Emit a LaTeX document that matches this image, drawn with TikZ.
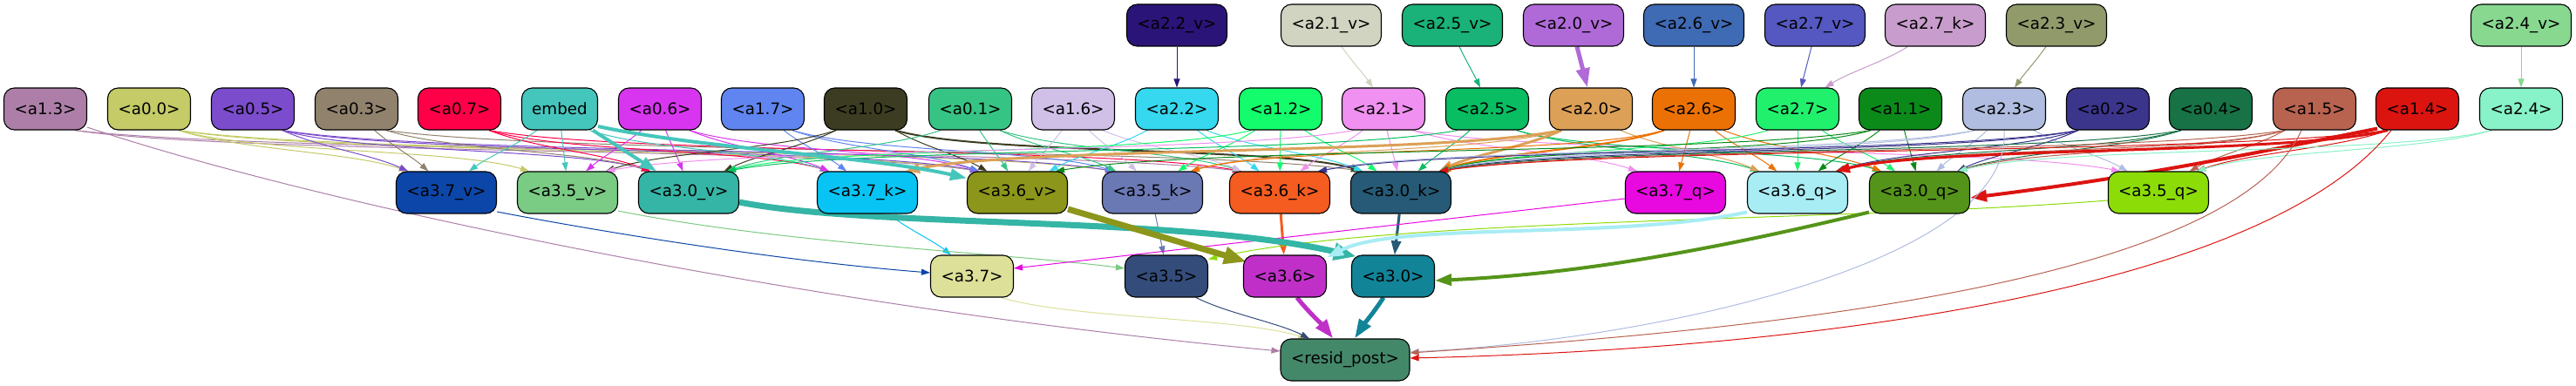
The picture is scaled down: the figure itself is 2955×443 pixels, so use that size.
\documentclass[tikz,border=0pt]{standalone}
\usepackage{fontspec}
\setmainfont{DejaVu Sans}
\usetikzlibrary{arrows.meta,calc}
\pgfdeclarelayer{bg}
\pgfsetlayers{bg,main}
\newdimen\edA \newdimen\edB \newdimen\edC \newdimen\edD
\definecolor{c13}{HTML}{AD7FA8}\definecolor{c00}{HTML}{C4CB67}\definecolor{c05}{HTML}{7B4CCC}
\definecolor{c03}{HTML}{91826D}\definecolor{c07}{HTML}{FF0048}\definecolor{cemb}{HTML}{45C6BC}
\definecolor{c06}{HTML}{D835F0}\definecolor{c17}{HTML}{6085F0}\definecolor{c10}{HTML}{3C3C22}
\definecolor{c01}{HTML}{36C484}\definecolor{c16}{HTML}{D0C0E8}\definecolor{c22}{HTML}{35D8EE}
\definecolor{c12}{HTML}{12FC6C}\definecolor{c21}{HTML}{F090F0}\definecolor{c25}{HTML}{08BD62}
\definecolor{c20}{HTML}{DCA057}\definecolor{c26}{HTML}{EC7104}\definecolor{c27}{HTML}{21F06D}
\definecolor{c11}{HTML}{0B8A1A}\definecolor{c23}{HTML}{B0BDE0}\definecolor{c02}{HTML}{3C358C}
\definecolor{c04}{HTML}{177245}\definecolor{c15}{HTML}{B86250}\definecolor{c14}{HTML}{DC1410}
\definecolor{c24}{HTML}{88F2C8}
\definecolor{c22v}{HTML}{2B1478}\definecolor{c21v}{HTML}{D0D4C0}\definecolor{c25v}{HTML}{1AB278}
\definecolor{c20v}{HTML}{B06AD8}\definecolor{c26v}{HTML}{3F6AB4}\definecolor{c27v}{HTML}{5558C0}
\definecolor{c27k}{HTML}{C89CCC}\definecolor{c23v}{HTML}{909A6A}\definecolor{c24v}{HTML}{88D890}
\definecolor{c37v}{HTML}{0C46A8}\definecolor{c35v}{HTML}{7ACB84}\definecolor{c30v}{HTML}{35B5A5}
\definecolor{c37k}{HTML}{08C4F4}\definecolor{c36v}{HTML}{8C961A}\definecolor{c35k}{HTML}{6A78B4}
\definecolor{c36k}{HTML}{F45C20}\definecolor{c30k}{HTML}{265A76}\definecolor{c37q}{HTML}{E808E0}
\definecolor{c36q}{HTML}{A8ECF4}\definecolor{c30q}{HTML}{55941A}\definecolor{c35q}{HTML}{8CDC08}
\definecolor{c37}{HTML}{DCE098}\definecolor{c35}{HTML}{344C7A}\definecolor{c36}{HTML}{C030C8}
\definecolor{c30}{HTML}{128498}\definecolor{crp}{HTML}{44886A}
\newcommand{\ed}[4][]{%
 \pgfextractx{\edA}{\pgfpointanchor{#2}{center}}%
 \pgfextractx{\edB}{\pgfpointanchor{#3}{center}}%
 \pgfextracty{\edC}{\pgfpointanchor{#2}{south}}%
 \pgfextracty{\edD}{\pgfpointanchor{#3}{north}}%
 \pgfmathsetmacro{\oA}{max(-34,min(34,(\edB-\edA)/5))}%
 \pgfmathsetmacro{\oB}{-max(-44,min(44,(\edB-\edA)/5))}%
 \pgfmathsetmacro{\dX}{(\edB-\edA)+((\oB)-(\oA))}%
 \pgfmathsetmacro{\tT}{min(1,abs(\dX)/500)}%
 \pgfmathsetmacro{\cX}{(\dX)*(0.3333-0.1533*(\tT))}%
 \pgfmathsetmacro{\cY}{(\edC-\edD)*(0.3333+0.2667*(\tT))}%
 \pgfmathsetmacro{\mX}{-(\cX)}%
 \pgfmathsetmacro{\mY}{-(\cY)}%
 \draw[cn,draw=#4,#1] ([xshift=\oA pt]#2.south) .. controls +(\cX,\cY) and +(\mX,\mY) .. ([xshift=\oB pt]#3.north);%
}
\begin{document}
\begin{tikzpicture}[x=1pt,y=-1pt,
 nd/.style={rectangle,rounded corners=12pt,draw=black,line width=1.1pt,minimum height=48pt,minimum width=95pt,inner sep=0pt,font=\fontsize{18.3}{22}\selectfont,text=black},
 wd/.style={minimum width=115pt},
 cn/.style={line width=1pt,-{Triangle[length=10pt,width=7pt]}},
 th2/.style={line width=2pt,-{Triangle[length=13pt,width=9pt]}},
 th3/.style={line width=3pt,-{Triangle[length=16pt,width=11pt]}},
 th4/.style={line width=4pt,-{Triangle[length=19pt,width=13pt]}},
 th5/.style={line width=5pt,-{Triangle[length=22pt,width=15pt]}},
 th7/.style={line width=7pt,-{Triangle[length=26pt,width=19pt]}}]
\useasboundingbox (0,0) rectangle (2955,443);
% row 0
\node[nd,wd,fill=c22v] (a22v) at (1350,29) {<a2.2\_v>};
\node[nd,wd,fill=c21v] (a21v) at (1527,29) {<a2.1\_v>};
\node[nd,wd,fill=c25v] (a25v) at (1666,29) {<a2.5\_v>};
\node[nd,wd,fill=c20v] (a20v) at (1805,29) {<a2.0\_v>};
\node[nd,wd,fill=c26v] (a26v) at (1943,29) {<a2.6\_v>};
\node[nd,wd,fill=c27v] (a27v) at (2082,29) {<a2.7\_v>};
\node[nd,wd,fill=c27k] (a27k) at (2220,29) {<a2.7\_k>};
\node[nd,wd,fill=c23v] (a23v) at (2359,29) {<a2.3\_v>};
\node[nd,wd,fill=c24v] (a24v) at (2892,29) {<a2.4\_v>};
% row 1
\node[nd,fill=c13] (a13) at (52,125) {<a1.3>};
\node[nd,fill=c00] (a00) at (171,125) {<a0.0>};
\node[nd,fill=c05] (a05) at (290,125) {<a0.5>};
\node[nd,fill=c03] (a03) at (409,125) {<a0.3>};
\node[nd,fill=c07] (a07) at (527,125) {<a0.7>};
\node[nd,fill=cemb,minimum width=87pt] (emb) at (642,125) {embed};
\node[nd,fill=c06] (a06) at (757,125) {<a0.6>};
\node[nd,fill=c17] (a17) at (875,125) {<a1.7>};
\node[nd,fill=c10] (a10) at (993,125) {<a1.0>};
\node[nd,fill=c01] (a01) at (1113,125) {<a0.1>};
\node[nd,fill=c16] (a16) at (1231,125) {<a1.6>};
\node[nd,fill=c22] (a22) at (1350,125) {<a2.2>};
\node[nd,fill=c12] (a12) at (1469,125) {<a1.2>};
\node[nd,fill=c21] (a21) at (1587,125) {<a2.1>};
\node[nd,fill=c25] (a25) at (1706,125) {<a2.5>};
\node[nd,fill=c20] (a20) at (1825,125) {<a2.0>};
\node[nd,fill=c26] (a26) at (1943,125) {<a2.6>};
\node[nd,fill=c27] (a27) at (2062,125) {<a2.7>};
\node[nd,fill=c11] (a11) at (2180,125) {<a1.1>};
\node[nd,fill=c23] (a23) at (2299,125) {<a2.3>};
\node[nd,fill=c02] (a02) at (2418,125) {<a0.2>};
\node[nd,fill=c04] (a04) at (2536,125) {<a0.4>};
\node[nd,fill=c15] (a15) at (2655,125) {<a1.5>};
\node[nd,fill=c14] (a14) at (2773,125) {<a1.4>};
\node[nd,fill=c24] (a24) at (2892,125) {<a2.4>};
% row 2
\node[nd,wd,fill=c37v] (a37v) at (512,221) {<a3.7\_v>};
\node[nd,wd,fill=c35v] (a35v) at (651,221) {<a3.5\_v>};
\node[nd,wd,fill=c30v] (a30v) at (790,221) {<a3.0\_v>};
\node[nd,wd,fill=c37k] (a37k) at (995,221) {<a3.7\_k>};
\node[nd,wd,fill=c36v] (a36v) at (1167,221) {<a3.6\_v>};
\node[nd,wd,fill=c35k] (a35k) at (1322,221) {<a3.5\_k>};
\node[nd,wd,fill=c36k] (a36k) at (1468,221) {<a3.6\_k>};
\node[nd,wd,fill=c30k] (a30k) at (1607,221) {<a3.0\_k>};
\node[nd,wd,fill=c37q] (a37q) at (1922,221) {<a3.7\_q>};
\node[nd,wd,fill=c36q] (a36q) at (2062,221) {<a3.6\_q>};
\node[nd,wd,fill=c30q] (a30q) at (2202,221) {<a3.0\_q>};
\node[nd,wd,fill=c35q] (a35q) at (2476,221) {<a3.5\_q>};
% row 3
\node[nd,fill=c37] (a37) at (1115,317) {<a3.7>};
\node[nd,fill=c35] (a35) at (1338,317) {<a3.5>};
\node[nd,fill=c36] (a36) at (1474,317) {<a3.6>};
\node[nd,fill=c30] (a30) at (1598,317) {<a3.0>};
% row 4
\node[nd,fill=crp,minimum width=148pt] (rp) at (1543,413) {<resid\_post>};
\begin{pgfonlayer}{bg}
\fill[white] (0,0) rectangle (2955,443);
% row 0 -> row 1
\ed{a22v}{a22}{c22v}\ed{a21v}{a21}{c21v}\ed{a25v}{a25}{c25v}
\ed[th5]{a20v}{a20}{c20v}\ed{a26v}{a26}{c26v}\ed{a27v}{a27}{c27v}
\ed{a27k}{a27}{c27k}\ed{a23v}{a23}{c23v}\ed{a24v}{a24}{c24v}
% row 1 -> row 2
\ed{a13}{a36v}{c13}\ed{a13}{a36k}{c13}
\ed{a00}{a37v}{c00}\ed{a00}{a35v}{c00}\ed{a00}{a36v}{c00}\ed{a00}{a35k}{c00}
\ed{a05}{a37v}{c05}\ed{a05}{a36v}{c05}\ed{a05}{a35k}{c05}\ed{a05}{a30v}{c05}
\ed{a03}{a37v}{c03}\ed{a03}{a30v}{c03}\ed{a03}{a30k}{c03}
\ed{a07}{a30v}{c07}\ed{a07}{a37k}{c07}\ed{a07}{a36k}{c07}
\ed{emb}{a37v}{cemb}\ed{emb}{a35v}{cemb}\ed{emb}{a37k}{cemb}
\ed{a06}{a35v}{c06}\ed{a06}{a30v}{c06}\ed{a06}{a37k}{c06}\ed{a06}{a36v}{c06}
\ed{a17}{a37k}{c17}\ed{a17}{a36v}{c17}\ed{a17}{a35k}{c17}
\ed{a10}{a35v}{c10}\ed{a10}{a30v}{c10}\ed{a10}{a36v}{c10}\ed[th2]{a10}{a30k}{c10}
\ed{a01}{a30v}{c01}\ed{a01}{a36v}{c01}\ed{a01}{a35k}{c01}\ed{a01}{a36k}{c01}
\ed{a16}{a36v}{c16}\ed{a16}{a35k}{c16}\ed{a16}{a36k}{c16}
\ed{a22}{a36v}{c22}\ed{a22}{a36k}{c22}\ed{a22}{a30k}{c22}
\ed{a12}{a35k}{c12}\ed{a12}{a36k}{c12}\ed{a12}{a30k}{c12}\ed{a12}{a30v}{c12}
\ed{a21}{a35v}{c21}\ed{a21}{a36k}{c21}\ed{a21}{a30k}{c21}\ed{a21}{a37q}{c21}\ed{a21}{a35q}{c21}
\ed{a25}{a30v}{c25}\ed{a25}{a30k}{c25}\ed{a25}{a36q}{c25}\ed{a25}{a30q}{c25}
\ed[th3]{a20}{a37k}{c20}\ed[th3]{a20}{a30k}{c20}\ed{a20}{a35k}{c20}\ed{a20}{a36q}{c20}
\ed[th2]{a26}{a30k}{c26}\ed{a26}{a37q}{c26}\ed{a26}{a36q}{c26}\ed{a26}{a30q}{c26}\ed{a26}{a35k}{c26}
\ed{a27}{a30k}{c27}\ed{a27}{a36q}{c27}\ed{a27}{a30q}{c27}
\ed{a11}{a36v}{c11}\ed{a11}{a36q}{c11}\ed{a11}{a30q}{c11}\ed{a11}{a30k}{c11}
\ed{a23}{a30q}{c23}\ed{a23}{a35q}{c23}\ed{a23}{a36k}{c23}\ed{a23}{a30k}{c23}
\ed{a02}{a30k}{c02}\ed{a02}{a36k}{c02}\ed{a02}{a36q}{c02}\ed{a02}{a30q}{c02}
\ed{a04}{a30q}{c04}\ed{a04}{a36q}{c04}\ed{a04}{a30k}{c04}
\ed{a15}{a30q}{c15}\ed{a15}{a35q}{c15}\ed{a15}{a36q}{c15}\ed{a15}{a30k}{c15}
\ed[th3]{a14}{a36q}{c14}\ed{a14}{a35q}{c14}\ed{a14}{a30k}{c14}
\draw[th4,draw=c14] ([xshift=-46pt,yshift=2pt]a14.south) .. controls +(-150,30) and +(200,-25) .. ([yshift=-6pt]a30q.east);
\ed{a24}{a30q}{c24}\ed{a24}{a35q}{c24}
% thick embed edges
\draw[th4,draw=cemb] ([xshift=-6pt]emb.south east) -- ([xshift=-37pt]a30v.north);
\draw[th4,draw=cemb] ([yshift=-20pt]emb.east) .. controls +(115,25) and +(-110,-25) .. ([yshift=-8pt]a36v.north west);
% row 2 -> row 3
\ed{a37k}{a37}{c37k}\ed{a35k}{a35}{c35k}\ed[th3]{a36k}{a36}{c36k}\ed[th3]{a30k}{a30}{c30k}
\draw[cn,draw=c37v] ([yshift=-22pt]a37v.east) .. controls +(130,25) and +(-166,-13) .. ([yshift=4pt]a37.west);
\draw[cn,draw=c35v] ([yshift=-21pt]a35v.east) .. controls +(190,38) and +(-140,-18) .. ([yshift=9pt]a35.west);
\draw[cn,draw=c37q] ([yshift=-7pt]a37q.west) -- ([yshift=9pt]a37.east);
\draw[cn,draw=c35q] ([yshift=-9pt]a35q.west) .. controls +(-318,25) and +(212,-48) .. ([yshift=-5pt]a35.north east);
\draw[th7,draw=c30v] ([yshift=-11pt]a30v.east) .. controls +(153,30) and +(-205,-47) .. ([xshift=6pt,yshift=-2pt]a30.north west);
\draw[th7,draw=c36v] ([yshift=-19pt]a36v.east) -- ([xshift=4pt,yshift=-8pt]a36.north west);
\draw[th4,draw=c30q] ([yshift=2pt]a30q.south west) .. controls +(-194,47) and +(154,-7) .. ([yshift=-5pt]a30.east);
\draw[th4,draw=c36q] ([yshift=2pt]a36q.south west) .. controls +(-153,32) and +(80,-41) .. ([yshift=-3pt]a36.north east);
% row 3 -> resid_post
\ed{a37}{rp}{c37}\ed{a35}{rp}{c35}\ed[th5]{a36}{rp}{c36}\ed[th5]{a30}{rp}{c30}
\draw[cn,draw=c13] ([yshift=-21pt]a13.east) .. controls +(250,84) and +(-564,-53) .. ([yshift=10pt]rp.west);
\draw[cn,draw=c23] (a23.south) .. controls +(11,151) and +(280,-14) .. ([yshift=9pt]rp.east);
\draw[cn,draw=c15] ([xshift=-15pt]a15.south) .. controls +(-80,180) and +(380,-25) .. ([yshift=8pt]rp.east);
\draw[cn,draw=c14] ([xshift=-30pt]a14.south) .. controls +(-143,180) and +(480,-11) .. ([yshift=2pt]rp.east);
\end{pgfonlayer}
\end{tikzpicture}
\end{document}
